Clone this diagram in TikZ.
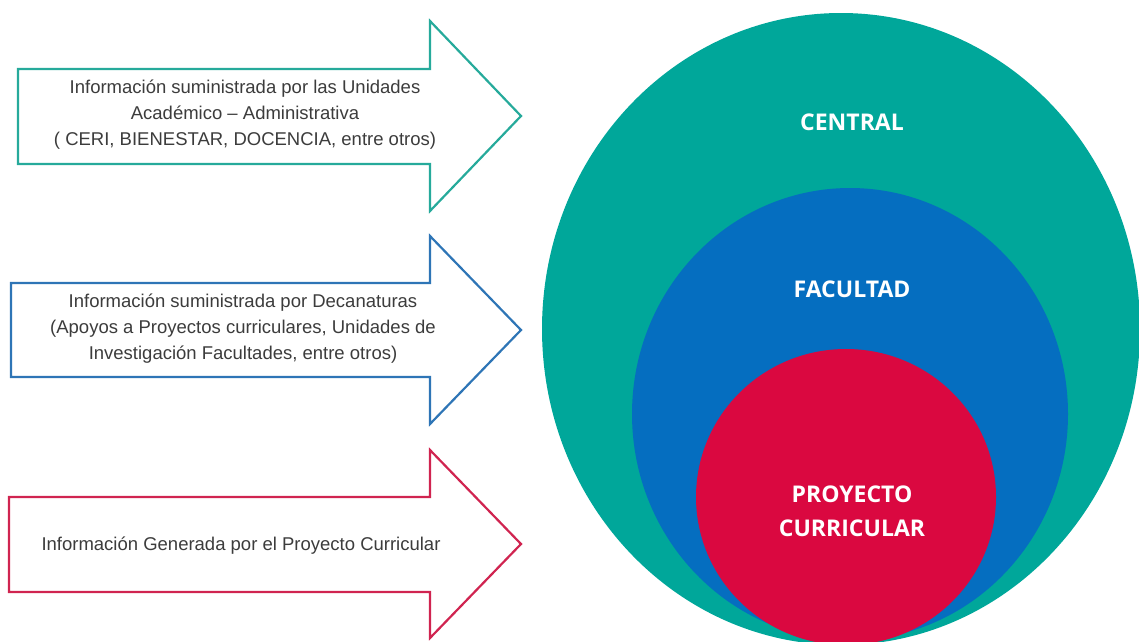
\documentclass[tikz,border=0pt]{standalone}
\usepackage{fontspec}
\setmainfont{Liberation Sans}
\newfontfamily\levelfont{Open Sans}
\usetikzlibrary{positioning}
\definecolor{centralteal}{RGB}{0,167,154}
\definecolor{facultadblue}{RGB}{5,110,192}
\definecolor{proyectored}{RGB}{218,8,64}
\definecolor{arrowteal}{RGB}{38,170,155}
\definecolor{arrowblue}{RGB}{46,117,182}
\definecolor{arrowred}{RGB}{208,36,80}
\definecolor{infotext}{RGB}{60,60,60}
\tikzset{
    info arrow/.style={
        draw=#1,
        line width=2.2pt,
        fill=white,
        line join=miter
    },
    info text/.style={
        font=\fontsize{18.5}{26}\selectfont,
        text=infotext,
        align=center,
        inner sep=0pt
    },
    level circle/.style={fill=#1, draw=none},
    level label/.style={
        font=\levelfont\bfseries\fontsize{23}{34}\selectfont,
        text=white,
        align=center,
        inner sep=0pt
    }
}

\begin{document}
\begin{tikzpicture}[x=1pt, y=-1pt]
\useasboundingbox (0,0) rectangle (1139,641);

% nested levels, cut at the page edge
\begin{scope}
    \clip (0,0) rectangle (1139,641);
    \fill[level circle=centralteal] (841,329) ellipse [x radius=299, y radius=316];
    \fill[level circle=facultadblue] (850,414) ellipse [x radius=218, y radius=226];
    \fill[level circle=proyectored] (846,497) ellipse [x radius=150, y radius=148];
\end{scope}

\node[level label] (central) at (852,122) {CENTRAL};
\node[level label] (facultad) at (852,289) {FACULTAD};
\node[level label] (proyecto) at (852,511) {PROYECTO\\CURRICULAR};

% information arrows
\draw[info arrow=arrowteal] (18,69) -- (430,69) -- (430,21) -- (521,116)
    -- (430,211) -- (430,164) -- (18,164) -- cycle;
\draw[info arrow=arrowblue] (11,283) -- (430,283) -- (430,236) -- (521,330)
    -- (430,424) -- (430,377) -- (11,377) -- cycle;
\draw[info arrow=arrowred] (9,497) -- (430,497) -- (430,450) -- (521,544)
    -- (430,638) -- (430,592) -- (9,592) -- cycle;

\node[info text] (unidades) at (245,115)
    {Información suministrada por las Unidades\\Académico – Administrativa\\( CERI, BIENESTAR, DOCENCIA, entre otros)};
\node[info text] (decanaturas) at (243,329)
    {Información suministrada por Decanaturas\\(Apoyos a Proyectos curriculares, Unidades de\\Investigación Facultades, entre otros)};
\node[info text] (generada) at (241,546)
    {Información Generada por el Proyecto Curricular};

\end{tikzpicture}
\end{document}
